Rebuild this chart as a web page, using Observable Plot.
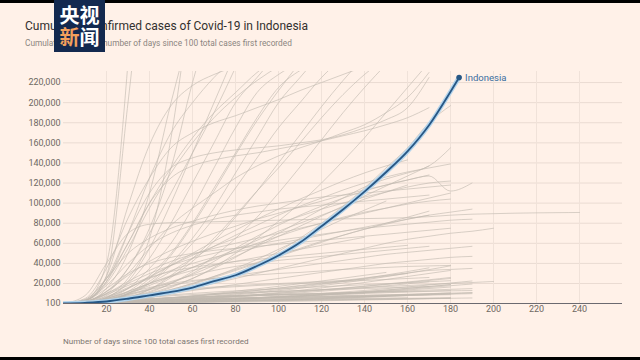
<!DOCTYPE html>
<html>
<head>
<meta charset="utf-8">
<script src="https://cdn.jsdelivr.net/npm/d3@7"></script>
<script src="https://cdn.jsdelivr.net/npm/@observablehq/plot@0.6"></script>
<style>
  html, body { margin: 0; padding: 0; background: #000; }
  #page { position: relative; width: 640px; height: 360px; overflow: hidden; background: #000; }
  #panel { position: absolute; left: 0; top: 3px; width: 640px; height: 354px; background: #fff1e8; }
  #chart { position: absolute; left: 0; top: 0; }
  .title { position: absolute; left: 25px; top: 19px; font-family: Roboto, sans-serif; font-size: 12px; color: #33302e; white-space: nowrap; }
  .subtitle { position: absolute; left: 25px; top: 38px; font-family: Roboto, sans-serif; font-size: 8.3px; color: #8b8580; white-space: nowrap; }
  .xlabel { position: absolute; left: 63px; top: 336px; font-family: Roboto, sans-serif; font-size: 8.1px; color: #7d7772; white-space: nowrap; }
  .logo { position: absolute; left: 54px; top: 0; width: 51px; height: 52px; background: #13294f; font-family: "Noto Sans CJK SC", sans-serif; font-weight: bold; font-size: 20px; line-height: 22px; text-align: center; padding-top: 4px; box-sizing: border-box; color: #fff; }
  .logo .o { color: #f3a05c; }
</style>
</head>
<body>
<div id="page">
  <div id="panel"></div>
  <div id="chart"></div>
  <div class="title">Cumulative confirmed cases of Covid-19 in Indonesia</div>
  <div class="subtitle">Cumulative cases by number of days since 100 total cases first recorded</div>
  <div class="xlabel">Number of days since 100 total cases first recorded</div>
  <div class="logo">央视<br><span class="o">新</span>闻</div>
</div>
<script>
// Axis ticks
const xTicks = [20, 40, 60, 80, 100, 120, 140, 160, 180, 200, 220, 240];
const yTicks = [100, 20000, 40000, 60000, 80000, 100000, 120000, 140000, 160000, 180000, 200000, 220000];

// Indonesia: days since 100th case and cumulative cases
const indoDays = [0, 10, 20, 30, 40, 50, 60, 70, 80, 90, 100, 110, 120, 130, 140, 150, 160, 170, 180, 184];
const indoCases = [100, 790, 2092, 4839, 8211, 11587, 16006, 22271, 28233, 37420, 47896, 60695, 76981, 93657, 111455, 130718, 151498, 177571, 210940, 225030];

// Other countries (grey): cumulative cases in thousands, one value every 10 days from day 0
const g01 = [0.1, 3, 40, 240];
const g02 = [0.1, 2, 28, 200, 400];
const g03 = [0.1, 3, 27, 97, 158, 197, 217, 228, 236];
const g04 = [0.1, 8, 40, 70, 79, 80.5, 81, 81.5, 82, 82.5, 83, 83.5, 84, 84.3, 84.6, 85, 85.5, 86.5, 88, 89, 89.5, 90, 90.3, 90.5, 90.7];
const g05 = [0.1, 1.5, 8, 25, 65, 165, 320];
const g06 = [0.1, 2, 10, 35, 75, 135, 220, 290];
const g07 = [0.1, 3, 22, 70, 125, 170, 200, 225, 245];
const g08 = [0.1, 2, 12, 35, 70, 110, 150, 190, 235];
const g09 = [0.1, 4, 25, 60, 100, 135, 165, 190, 210, 230, 245];
const g10 = [0.1, 1, 6, 20, 45, 80, 120, 160, 200, 225, 250];
const g11 = [0.1, 1, 5, 15, 35, 60, 95, 135, 175, 210, 228, 240];
const g12 = [0.1, 1, 4, 12, 28, 50, 80, 115, 150, 185, 215, 232];
const g13 = [0.1, 0.8, 3, 10, 22, 40, 65, 95, 130, 165, 200, 225, 250];
const g14 = [0.1, 0.8, 3, 9, 20, 38, 60, 85, 115, 145, 175, 200, 225, 245];
const g15 = [0.1, 5, 35, 85, 125, 155, 170, 180, 187, 195, 203, 212, 220, 228, 236];
const g16 = [0.1, 3, 25, 70, 110, 135, 145, 150, 153, 155, 157, 160, 163, 168, 175, 183, 195, 225];
const g17 = [0.1, 3, 22, 60, 100, 125, 137, 143, 147, 150, 154, 158, 162, 167, 172, 178, 185, 195];
const g18 = [0.1, 2, 12, 30, 55, 78, 95, 110, 125, 137, 147, 155, 162, 170, 178, 190, 205, 230];
const g19 = [0.1, 0.5, 2, 6, 14, 28, 45, 65, 88, 112, 135, 160, 185, 208, 228, 245];
const g20 = [0.1, 0.4, 1.5, 4, 9, 16, 25, 36, 50, 65, 82, 100, 120, 142, 165, 190, 215, 240];
const g21 = [0.1, 0.3, 1, 3, 6, 10, 15, 22, 30, 40, 52, 65, 80, 97, 115, 135, 155, 180, 197];
const g22 = [0.1, 0.5, 3, 10, 20, 32, 45, 57, 68, 78, 88, 97, 105, 113, 120, 126, 131, 135, 139];
const g23 = [0.1, 1, 6, 15, 27, 38, 48, 57, 65, 73, 80, 87, 94, 100, 106, 111, 116, 120, 122];
const g24 = [0.1, 0.5, 2, 6, 12, 20, 30, 42, 55, 67, 78, 88, 97, 105, 112, 118, 123, 127, 112, 120];
const g25 = [0.1, 0.5, 2, 5, 10, 17, 25, 35, 46, 58, 70, 82, 94, 105, 116, 124, 130, 137, 155];
const g26 = [0.1, 1, 5, 12, 20, 28, 36, 44, 52, 60, 67, 74, 80, 86, 91, 95, 99, 102, 104];
const g27 = [0.1, 0.5, 2, 5, 9, 14, 20, 27, 34, 41, 48, 55, 62, 68, 74, 79, 84, 88, 91, 94];
const g28 = [0.1, 2, 10, 20, 30, 38, 45, 50, 55, 59, 63, 66, 69, 72, 75, 77, 79, 81, 83, 84];
const g29 = [0.1, 0.4, 1.5, 3, 6, 10, 15, 20, 25, 30, 35, 40, 45, 50, 55, 60, 64, 67, 70, 72, 75];
const g30 = [0.1, 1, 4, 9, 14, 18, 22, 25, 28, 31, 34, 37, 40, 43, 46, 49, 51, 53, 55, 57];
const g31 = [0.1, 0.5, 2, 4, 7, 10, 13, 16, 19, 22, 25, 28, 31, 34, 37, 40, 42, 44, 46, 47];
const g32 = [0.1, 1, 5, 11, 16, 20, 23, 25, 27, 28.5, 30, 31, 32.5, 34, 35, 36, 37, 37.5, 38];
const g33 = [0.1, 0.3, 1, 2, 3.5, 5, 7, 9, 11, 13, 15.5, 18, 20.5, 23, 25.5, 28, 30.5, 33, 34, 35];
const g34 = [0.1, 0.5, 1.5, 3, 4.5, 6, 7.5, 9, 10, 11, 12, 13, 14, 15, 16, 17, 18, 19, 20, 21, 22];
const g35 = [0.1, 0.3, 0.8, 1.5, 2.2, 3, 3.8, 4.5, 5.3, 6, 6.8, 7.6, 8.4, 9.2, 10, 10.8, 11.5, 12.2, 12.7, 13];
const g36 = [0.1, 4, 25, 50, 65, 75, 82, 88, 93, 97, 100, 103, 106, 108, 110, 112, 114, 116, 118];
const g37 = [0.1, 3, 18, 40, 58, 70, 78, 84, 88, 91, 94, 96, 98, 100, 102, 104, 106, 108];
const g38 = [0.1, 2, 12, 28, 42, 53, 62, 70, 77, 84, 90, 96, 102, 108, 113, 118, 123, 128];
const g39 = [0.1, 1, 6, 15, 26, 38, 50, 62, 73, 84, 94, 104, 113, 122, 130, 137, 143];
const g40 = [0.1, 2, 10, 22, 33, 42, 49, 55, 60, 65, 70, 75, 80, 85, 90, 95, 100, 105, 110];
const g41 = [0.1, 1.5, 7, 16, 25, 33, 40, 46, 51, 56, 60, 64, 68, 72, 76, 80, 84, 88];
const g42 = [0.1, 3, 15, 30, 40, 46, 50, 53, 55, 57, 59, 61, 63, 65, 67, 69, 71, 73, 75];
const g43 = [0.1, 0.8, 4, 10, 18, 27, 36, 45, 54, 63, 72, 80, 88, 96, 104, 111, 118];
const g44 = [0.1, 0.6, 3, 8, 14, 21, 29, 38, 47, 57, 67, 77, 87, 97, 107, 117, 127, 137];
const g45 = [0.1, 1, 5, 12, 20, 27, 33, 38, 42, 46, 50, 54, 58, 62, 66];
const g46 = [0.1, 2, 9, 18, 26, 32, 36, 39, 42, 44, 46, 48, 50, 52, 54, 56, 58];
const g47 = [0.1, 0.5, 2, 5, 9, 14, 20, 27, 35, 44, 54, 64, 74, 84, 93, 102];
const g48 = [0.1, 1, 4, 9, 15, 22, 28, 33, 37, 40, 43, 45, 47, 49, 51, 53, 55, 57];
const g49 = [0.1, 0.4, 1.5, 4, 8, 13, 19, 26, 33, 40, 47, 54, 61, 68, 74, 80, 86, 92];
const g50 = [0.1, 0.4, 1, 1.8, 2.6, 3.3, 4, 4.6, 5.2, 5.9, 6.7, 7.6, 8.6, 9.7, 10.9, 12.2, 13.6, 15, 16.5];
const g51 = [0.1, 0.6, 1.8, 3.2, 4.5, 5.6, 6.5, 7.3, 8, 8.6, 9.2, 9.8, 10.3, 10.8, 11.3, 11.8, 12.2];
const g52 = [0.1, 0.3, 0.6, 1, 1.5, 2.1, 2.8, 3.6, 4.5, 5.5, 6.6, 7.8, 9.1, 10.5, 12, 13.6, 15.3, 17, 19];
const g53 = [0.1, 0.5, 1.3, 2.2, 3, 3.6, 4.1, 4.5, 4.9, 5.3, 5.7, 6.1, 6.5, 6.9, 7.3, 7.7, 8.1, 8.5, 8.9];
const g54 = [0.1, 0.8, 2.5, 4.5, 6.3, 7.8, 9, 10, 10.8, 11.5, 12.2, 12.9, 13.6, 14.3, 15, 15.7, 16.4, 17];
const g55 = [0.1, 0.2, 0.5, 0.9, 1.4, 2, 2.7, 3.5, 4.3, 5.2, 6.2, 7.3, 8.5, 9.8, 11.2, 12.7, 14.3, 16, 17.8, 19.5];
const g56 = [0.1, 0.3, 0.8, 1.5, 2.3, 3.2, 4.2, 5.3, 6.5, 7.8, 9.2, 10.7, 12.3, 14, 15.8, 17.7, 19.7, 21.8];
const g57 = [0.1, 0.7, 2, 3.5, 4.8, 5.8, 6.6, 7.2, 7.7, 8.1, 8.5, 8.9, 9.3, 9.7, 10.1];
const g58 = [0.1, 0.2, 0.4, 0.7, 1, 1.4, 1.8, 2.3, 2.8, 3.4, 4, 4.7, 5.4, 6.2, 7, 7.9, 8.8, 9.8, 10.8];
const g59 = [0.1, 1, 3.5, 6.5, 9.5, 12, 14, 15.5, 16.8, 18, 19, 20, 21, 22, 23, 24, 25, 26];
const g60 = [0.1, 0.4, 1.2, 2.5, 4, 5.8, 7.8, 10, 12.3, 14.7, 17.2, 19.8, 22.5, 25.3, 28.2, 31];
const g61 = [0.1, 0.3, 0.9, 1.7, 2.6, 3.6, 4.7, 5.9, 7.2, 8.6, 10.1, 11.7, 13.4, 15.2, 17.1, 19, 21, 23, 25];
const g62 = [0.1, 0.5, 1.5, 2.7, 3.8, 4.8, 5.7, 6.5, 7.2, 7.9, 8.6, 9.3, 10, 10.7, 11.4, 12.1, 12.8, 13.5, 14.2, 14.9];
const g63 = [0.1, 0.2, 0.3, 0.5, 0.8, 1.1, 1.5, 1.9, 2.4, 2.9, 3.5, 4.1, 4.8, 5.5, 6.3, 7.1, 8, 8.9, 9.8, 10.7];
const g64 = [0.1, 0.3, 0.7, 1.1, 1.5, 1.9, 2.3, 2.6, 2.9, 3.2, 3.5, 3.8, 4.1, 4.4, 4.7, 5, 5.3, 5.6, 5.9];
const g65 = [0.1, 0.6, 1.6, 2.8, 4.2, 5.8, 7.5, 9.3, 11.2, 13.2, 15.3, 17.5, 19.8, 22.2, 24.7, 27.3, 30];
const g66 = [0.1, 0.4, 1, 1.6, 2.1, 2.5, 2.8, 3.1, 3.4, 3.7, 4, 4.3, 4.6, 4.9, 5.2, 5.5, 5.8];
const g67 = [0.1, 0.2, 0.6, 1.2, 2, 3, 4.2, 5.6, 7.2, 9, 11, 13.2, 15.6, 18.2, 21, 24, 27, 30, 33];
const g68 = [0.1, 1.2, 4, 7.5, 10.5, 13, 15, 16.5, 17.8, 19, 20, 21, 22, 23, 24];
const g69 = [0.1, 0.3, 0.8, 1.4, 2, 2.6, 3.2, 3.8, 4.4, 5, 5.6, 6.2, 6.8, 7.4, 8, 8.6, 9.2, 9.8, 10.4, 11];
const g70 = [0.1, 0.5, 1.2, 2, 2.9, 3.9, 5, 6.2, 7.5, 8.9, 10.4, 12, 13.7, 15.5, 17.4, 19.4, 21.5, 23.7, 26];
const g71 = [0.1, 0.2, 0.5, 1, 1.6, 2.3, 3.1, 4, 5, 6.1, 7.3, 8.6, 10, 11.5, 13.1, 14.8, 16.6, 18.5, 20.5, 22.5];
const g72 = [0.1, 0.8, 2.2, 3.6, 4.8, 5.8, 6.6, 7.3, 7.9, 8.4, 8.9, 9.4, 9.9, 10.4, 10.9, 11.4, 11.9, 12.4, 12.9];
const g73 = [0.1, 0.2, 0.4, 0.6, 0.9, 1.2, 1.6, 2, 2.5, 3, 3.6, 4.2, 4.9, 5.6, 6.4, 7.2];
const g74 = [0.1, 0.4, 1.1, 2, 3.1, 4.4, 5.9, 7.6, 9.5, 11.6, 13.9, 16.4, 19.1, 22, 25.1, 28.4, 31.9, 35.6];
const g75 = [0.1, 0.3, 0.6, 0.9, 1.2, 1.5, 1.8, 2.1, 2.4, 2.7, 3, 3.3, 3.6, 3.9, 4.2, 4.5, 4.8, 5.1, 5.4];
const g76 = [0.1, 2, 15, 50, 110, 200, 280];
const g77 = [0.1, 1, 6, 22, 55, 100, 150, 200, 250];
const g78 = [0.1, 3, 20, 55, 95, 130, 160, 185, 205, 222, 236];
const g79 = [0.1, 0.6, 3, 10, 25, 48, 78, 112, 148, 182, 212, 240];
const g80 = [0.1, 0.5, 2, 6, 14, 26, 42, 62, 86, 112, 140, 168, 196, 222, 246];
const g81 = [0.1, 0.4, 1.5, 5, 11, 20, 32, 47, 65, 86, 110, 136, 163, 190, 215, 238];
const g82 = [0.1, 0.5, 1.4, 2.3, 3.1, 3.8, 4.4, 5, 5.5, 6, 6.5, 7, 7.5, 8, 8.4, 8.8, 9.2, 9.6, 10];
const g83 = [0.1, 0.3, 0.7, 1.2, 1.7, 2.2, 2.7, 3.2, 3.7, 4.2, 4.7, 5.2, 5.8, 6.4, 7, 7.6, 8.2, 8.8, 9.4, 9.9];
const g84 = [0.1, 0.6, 1.5, 2.4, 3.2, 3.9, 4.5, 5, 5.4, 5.8, 6.2, 6.6, 7, 7.4, 7.8, 8.2, 8.6, 9];
const g85 = [0.1, 0.2, 0.4, 0.8, 1.3, 1.9, 2.6, 3.4, 4.3, 5.3, 6.4, 7.6, 8.9, 10.3, 11.8, 13.4, 15.1, 16.9, 18.8];
const g86 = [0.1, 0.4, 0.9, 1.4, 1.9, 2.4, 2.9, 3.4, 3.9, 4.4, 4.9, 5.4, 5.9, 6.4, 6.9, 7.4, 7.9];
const g87 = [0.1, 0.2, 0.5, 0.8, 1.1, 1.4, 1.7, 2, 2.3, 2.6, 2.9, 3.2, 3.5, 3.8, 4.1, 4.4, 4.7, 5, 5.3, 5.6];
const g88 = [0.1, 0.9, 2.8, 5, 7, 8.7, 10.2, 11.5, 12.7, 13.8, 14.8, 15.8, 16.8, 17.8, 18.8, 19.8, 20.8, 21.8, 22.8];
const g89 = [0.1, 0.3, 0.8, 1.6, 2.6, 3.8, 5.2, 6.8, 8.6, 10.6, 12.8, 15.2, 17.8, 20.6, 23.6, 26.8, 30.2, 33.8, 37.6];
const g90 = [0.1, 0.2, 0.3, 0.4, 0.6, 0.8, 1, 1.2, 1.5, 1.8, 2.1, 2.4, 2.8, 3.2, 3.6, 4, 4.4, 4.8, 5.2];

const greySeries = [g01,g02,g03,g04,g05,g06,g07,g08,g09,g10,g11,g12,g13,g14,g15,g16,g17,g18,g19,g20,
  g21,g22,g23,g24,g25,g26,g27,g28,g29,g30,g31,g32,g33,g34,g35,g36,g37,g38,g39,g40,
  g41,g42,g43,g44,g45,g46,g47,g48,g49,g50,g51,g52,g53,g54,g55,g56,g57,g58,g59,g60,
  g61,g62,g63,g64,g65,g66,g67,g68,g69,g70,g71,g72,g73,g74,g75,g76,g77,g78,g79,g80,g81,
  g82,g83,g84,g85,g86,g87,g88,g89,g90];

const greyRows = greySeries.flatMap((s, k) => s.map((v, i) => ({id: k, day: i * 10, cases: v * 1000})));
const indoRows = indoDays.map((d, i) => ({day: d, cases: indoCases[i]}));
const indoLast = indoRows[indoRows.length - 1];

const chart = Plot.plot({
  width: 640,
  height: 360,
  marginLeft: 63,
  marginRight: 18,
  marginTop: 71,
  marginBottom: 57,
  style: {background: "transparent", fontFamily: "Roboto, sans-serif", fontSize: "9px", color: "#6e6862"},
  x: {domain: [0, 260]},
  y: {domain: [100, 231000]},
  marks: [
    Plot.gridY(yTicks, {stroke: "#eadbd2", strokeOpacity: 1}),
    Plot.gridX(xTicks, {stroke: "#f0e2d9", strokeOpacity: 1}),
    Plot.axisY(yTicks, {tickSize: 0, tickPadding: 3, tickFormat: d3.format(","), label: null, fill: "#6e6862"}),
    Plot.axisX(xTicks, {tickSize: 0, tickPadding: 2, tickFormat: d => String(d), label: null, fill: "#6e6862"}),
    Plot.line(greyRows, {x: "day", y: "cases", z: "id", stroke: "#c2b9b1", strokeWidth: 0.75, strokeOpacity: 0.85, curve: "monotone-x", clip: true}),
    Plot.ruleY([100], {stroke: "#6b6a70", strokeWidth: 1}),
    Plot.line(indoRows, {x: "day", y: "cases", stroke: "#b3d4ec", strokeWidth: 4.5, curve: "monotone-x", clip: true}),
    Plot.line(indoRows, {x: "day", y: "cases", stroke: "#275785", strokeWidth: 1.8, curve: "monotone-x", clip: true}),
    Plot.dot([indoLast], {x: "day", y: "cases", r: 2.8, fill: "#275785"}),
    Plot.text([indoLast], {x: "day", y: "cases", text: () => "Indonesia", dx: 6, textAnchor: "start", fill: "#3b6e9f", fontSize: 9.5})
  ]
});
document.getElementById("chart").appendChild(chart);
</script>
</body>
</html>
